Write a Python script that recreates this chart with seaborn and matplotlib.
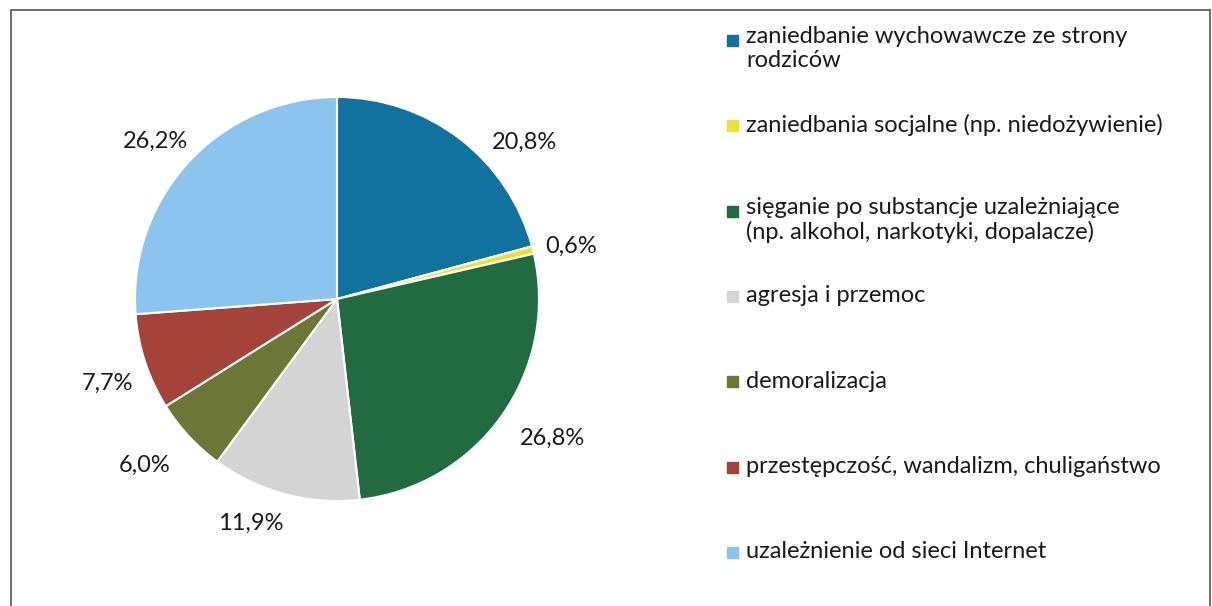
import numpy as np
import matplotlib
matplotlib.use("Agg")
import matplotlib.pyplot as plt
import seaborn as sns
from matplotlib.lines import Line2D
from matplotlib.patches import Rectangle

# chart data
categories = [
    "zaniedbanie wychowawcze ze strony\nrodziców",
    "zaniedbania socjalne (np. niedożywienie)",
    "sięganie po substancje uzależniające\n(np. alkohol, narkotyki, dopalacze)",
    "agresja i przemoc",
    "demoralizacja",
    "przestępczość, wandalizm, chuligaństwo",
    "uzależnienie od sieci Internet",
]
values = [20.8, 0.6, 26.8, 11.9, 6.0, 7.7, 26.2]
pct_labels = ["20,8%", "0,6%", "26,8%", "11,9%", "6,0%", "7,7%", "26,2%"]
colors = ["#11729f", "#ece13a", "#226a3f", "#d4d4d4", "#6b7637", "#a3433a", "#8cc4f0"]

# label placement (Excel "best fit" style): angle shift in degrees, radius
label_shift = [-12.6, -1.3, 2.4, -6.2, -1.9, 2.1, 1.8]
label_rad = [1.21, 1.19, 1.27, 1.19, 1.26, 1.21, 1.19]

sns.set_theme(style="white")
plt.rcParams['font.family'] = ['Lato', 'DejaVu Sans']

W, H = 1212, 606
fig = plt.figure(figsize=(W / 100, H / 100), dpi=100)
# square axes centred on the pie centre
side = 848
cx, cy = 337, 299
ax = fig.add_axes([(cx - side / 2) / W, 1 - (cy + side / 2) / H, side / W, side / H])
ax.set_aspect("equal")

wedges, _ = ax.pie(values, colors=colors, startangle=90, counterclock=False,
                   radius=1.0, wedgeprops=dict(edgecolor="white", linewidth=1.5))
lim = side / 2 / 202
ax.set_xlim(-lim, lim)
ax.set_ylim(-lim, lim)

# percentage labels outside each wedge
for w, lab, sh, r in zip(wedges, pct_labels, label_shift, label_rad):
    ang = np.deg2rad((w.theta1 + w.theta2) / 2 + sh)
    ax.text(r * np.cos(ang), r * np.sin(ang), lab, ha="center", va="center",
            fontsize=17, color="#1a1a1a")

# legend drawn as a column of squares and texts
y0, step = 40, 85.3
for i, (lab, c) in enumerate(zip(categories, colors)):
    yc = y0 + i * step
    fig.add_artist(Rectangle((727 / W, 1 - (yc + 6) / H), 11 / W, 11 / H,
                             transform=fig.transFigure, color=c))
    if "\n" in lab:
        fig.text(746 / W, 1 - (yc - 14) / H, lab, ha="left", va="top",
                 fontsize=17, color="#1a1a1a", linespacing=1.2)
    else:
        fig.text(746 / W, 1 - yc / H, lab, ha="left", va="center",
                 fontsize=17, color="#1a1a1a")

# outer frame (top, left, right)
for xs, ys in [((11, 1210), (10, 10)), ((11, 11), (10, H)), ((1210, 1210), (10, H))]:
    fig.add_artist(Line2D([x / W for x in xs], [1 - y / H for y in ys],
                          color="#555555", linewidth=1.2))

fig.savefig("out.png", dpi=100)
